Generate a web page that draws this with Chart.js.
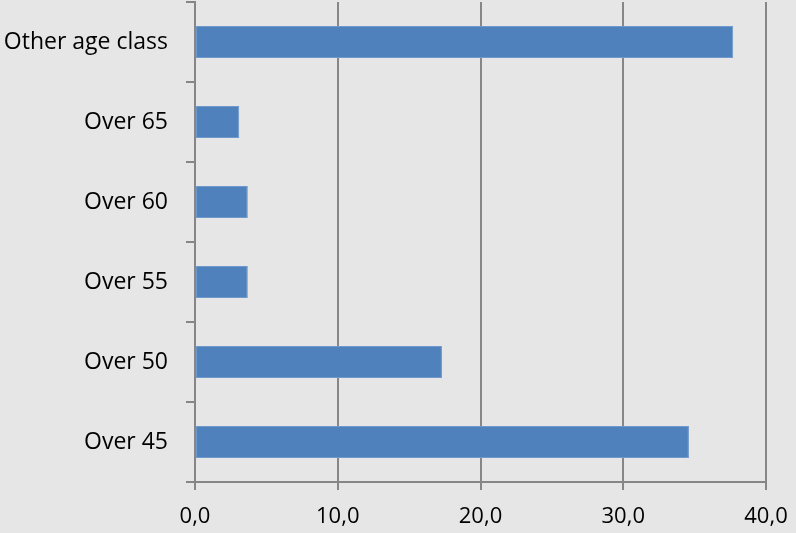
<!DOCTYPE html>
<html>
<head>
<meta charset="utf-8">
<script src="https://cdn.jsdelivr.net/npm/chart.js@4.4.0/dist/chart.umd.min.js"></script>
<style>
  html, body { margin: 0; padding: 0; background: #e6e6e6; }
  #wrap { width: 796px; height: 533px; position: relative; }
</style>
</head>
<body>
<div id="wrap"><canvas id="c" width="796" height="533"></canvas></div>
<script>
const categories = ["Other age class", "Over 65", "Over 60", "Over 55", "Over 50", "Over 45"];
const values = [37.7, 3.1, 3.7, 3.7, 17.3, 34.6];
const xTicks = [0, 10, 20, 30, 40];

const fontFamily = "'Open Sans', 'Liberation Sans', sans-serif";

new Chart(document.getElementById('c'), {
  type: 'bar',
  data: {
    labels: categories,
    datasets: [{
      data: values,
      backgroundColor: '#4f81bd',
      borderColor: '#6f98cc',
      borderWidth: 1,
      borderSkipped: false,
      barPercentage: 0.4,
      categoryPercentage: 1.0
    }]
  },
  options: {
    indexAxis: 'y',
    responsive: false,
    animation: false,
    layout: { padding: { top: 2, right: 30, left: 0, bottom: 0 } },
    plugins: { legend: { display: false }, tooltip: { enabled: false } },
    scales: {
      x: {
        min: xTicks[0],
        max: xTicks[xTicks.length - 1],
        afterBuildTicks: (s) => { s.ticks = xTicks.map(v => ({ value: v })); },
        afterFit: (s) => { s.height = 51; s.paddingLeft = 0; s.paddingRight = 0; },
        grid: { color: '#878787', lineWidth: 2, tickLength: 8, drawTicks: true },
        border: { color: '#868686', width: 2 },
        ticks: {
          color: '#000',
          font: { family: fontFamily, size: 22 },
          padding: 14,
          callback: (v) => Number(v).toFixed(1).replace('.', ',')
        }
      },
      y: {
        afterFit: (s) => { s.width = 195; s.paddingTop = 0; s.paddingBottom = 0; },
        grid: { offset: true, drawOnChartArea: false, color: '#868686', lineWidth: 2, tickLength: 9 },
        border: { color: '#868686', width: 2 },
        ticks: {
          color: '#000',
          font: { family: fontFamily, size: 23 },
          padding: 18
        }
      }
    }
  }
});
</script>
</body>
</html>
